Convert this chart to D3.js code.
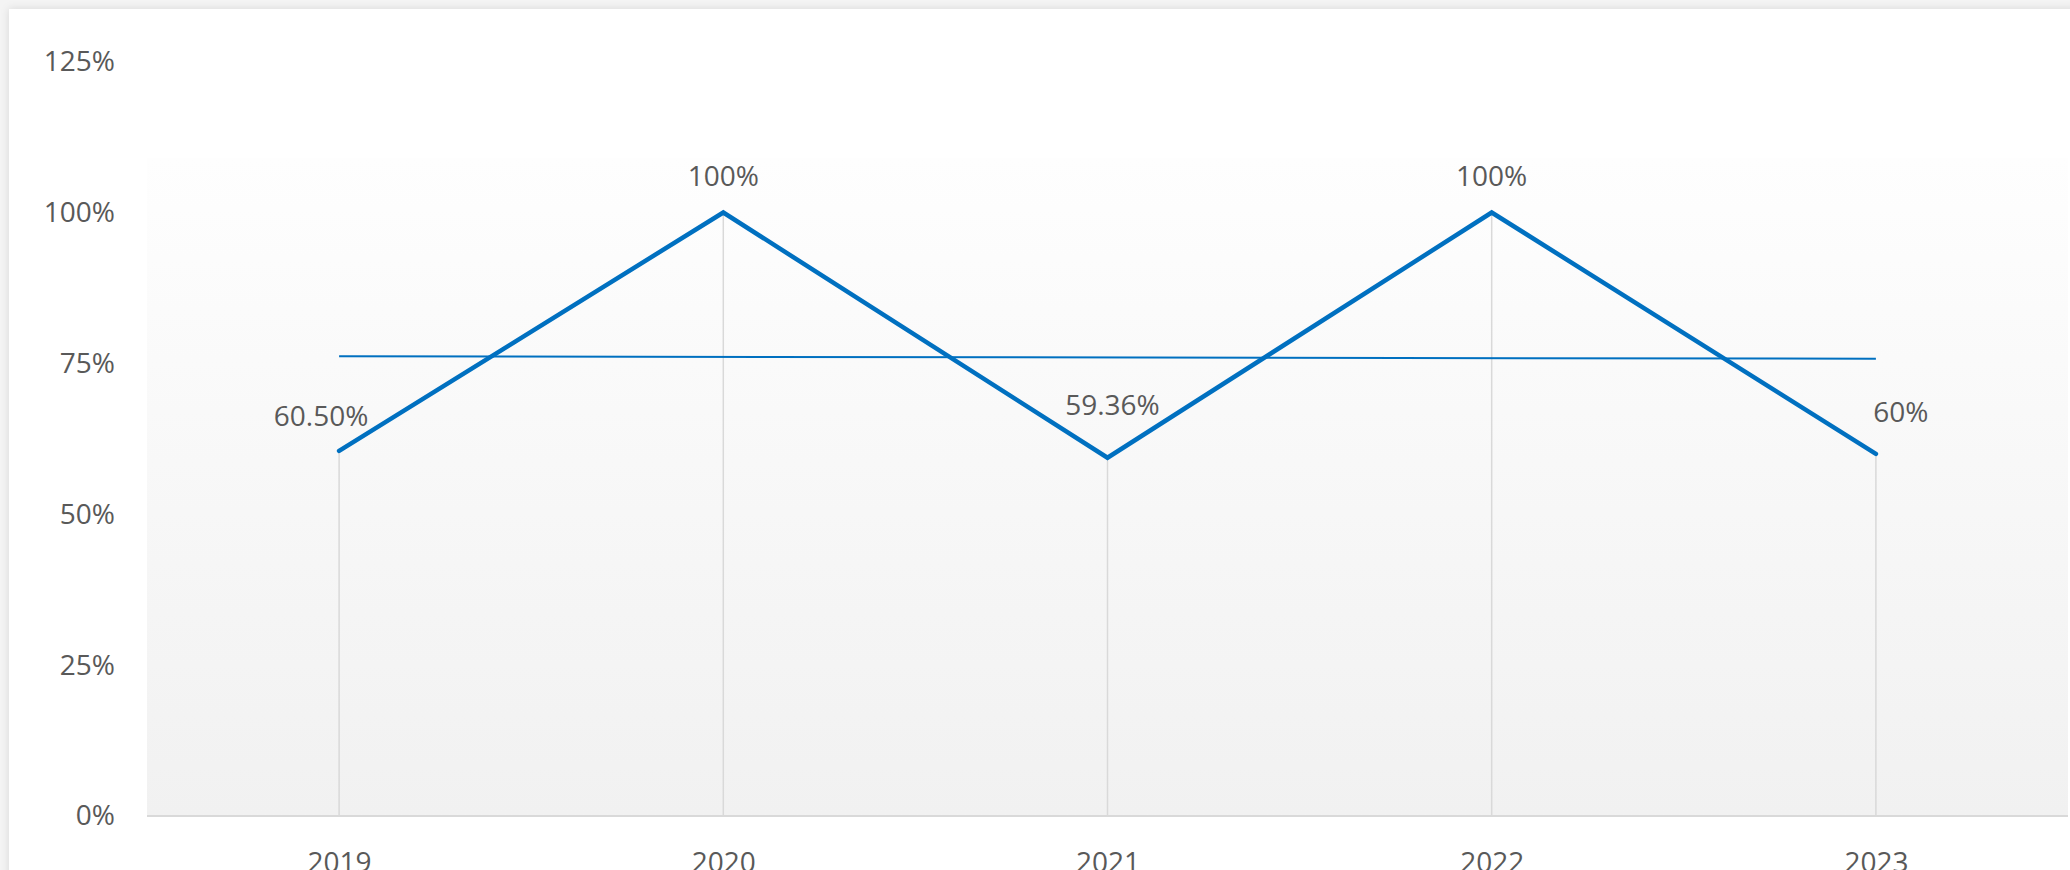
<!DOCTYPE html>
<html>
<head>
<meta charset="utf-8">
<script src="https://cdn.jsdelivr.net/npm/d3@7"></script>
<style>
  html, body { margin: 0; padding: 0; background: #f0f0f0; overflow: hidden; }
  text { font-family: "Open Sans", "Noto Sans", sans-serif; fill: #595959; }
</style>
</head>
<body>
<div id="chart"></div>
<script>
// chart values
const years = ['2019', '2020', '2021', '2022', '2023'];
const rates = [0.605, 1.0, 0.5936, 1.0, 0.60];
const rateLabels = ['60.50%', '100%', '59.36%', '100%', '60%'];
const yTicks = [0, 0.25, 0.5, 0.75, 1.0, 1.25];

// label nudges (px) as placed in the original
const labelDx = [-18, 0, 5, 0, 25];
const labelLift = [25, 26, 43, 26, 32];

const width = 2070, height = 870;
const plot = { left: 147, right: 2068, top: 158, bottom: 816 };

const svg = d3.select('#chart')
  .append('svg')
  .attr('width', width)
  .attr('height', height);

const defs = svg.append('defs');

const shadow = defs.append('filter')
  .attr('id', 'shadow')
  .attr('x', '-5%').attr('y', '-5%')
  .attr('width', '110%').attr('height', '110%');
shadow.append('feDropShadow')
  .attr('dx', 0).attr('dy', 0)
  .attr('stdDeviation', 4)
  .attr('flood-color', '#000')
  .attr('flood-opacity', 0.12);

const grad = defs.append('linearGradient')
  .attr('id', 'plotFill')
  .attr('x1', 0).attr('y1', 0).attr('x2', 0).attr('y2', 1);
grad.append('stop').attr('offset', '0%').attr('stop-color', '#fefefe');
grad.append('stop').attr('offset', '100%').attr('stop-color', '#f1f1f1');

// chart area (white card)
svg.append('rect')
  .attr('x', 0).attr('y', 0)
  .attr('width', width).attr('height', height)
  .attr('fill', '#f4f4f4');

svg.append('rect')
  .attr('x', 9).attr('y', 9)
  .attr('width', width).attr('height', height)
  .attr('fill', '#ffffff')
  .attr('filter', 'url(#shadow)');

// plot area
svg.append('rect')
  .attr('x', plot.left).attr('y', plot.top)
  .attr('width', plot.right - plot.left)
  .attr('height', plot.bottom - plot.top)
  .attr('fill', 'url(#plotFill)');

const xScale = d3.scalePoint()
  .domain(years)
  .range([plot.left, plot.right])
  .padding(0.5);

const yScale = d3.scaleLinear()
  .domain([0, 1.25])
  .range([plot.bottom, 61.6]);

// y axis labels
const yAxis = d3.axisLeft(yScale)
  .tickValues(yTicks)
  .tickFormat(d3.format('.0%'))
  .tickSize(0)
  .tickPadding(32);

const yG = svg.append('g')
  .attr('transform', `translate(${plot.left}, 0)`)
  .call(yAxis);
yG.select('.domain').remove();
yG.selectAll('text')
  .style('font-size', '28px')
  .attr('fill', '#595959');

// x axis labels (cut off by the bottom edge, as in the original)
const xAxis = d3.axisBottom(xScale)
  .tickSize(0)
  .tickPadding(36);

const xG = svg.append('g')
  .attr('transform', `translate(0, ${plot.bottom})`)
  .call(xAxis);
xG.select('.domain').remove();
xG.selectAll('text')
  .style('font-size', '28px')
  .attr('fill', '#595959');

// drop lines
svg.append('g')
  .selectAll('line')
  .data(rates)
  .enter()
  .append('line')
  .attr('x1', (d, i) => xScale(years[i]))
  .attr('x2', (d, i) => xScale(years[i]))
  .attr('y1', d => yScale(d))
  .attr('y2', yScale(0))
  .attr('stroke', '#d9d9d9')
  .attr('stroke-width', 1.5);

// horizontal axis line
svg.append('line')
  .attr('x1', plot.left).attr('x2', plot.right)
  .attr('y1', yScale(0)).attr('y2', yScale(0))
  .attr('stroke', '#d9d9d9')
  .attr('stroke-width', 2);

// linear trendline (least squares over the series)
const idx = rates.map((d, i) => i + 1);
const mx = d3.mean(idx), my = d3.mean(rates);
const slope = d3.sum(idx, (x, i) => (x - mx) * (rates[i] - my)) / d3.sum(idx, x => (x - mx) ** 2);
const intercept = my - slope * mx;
const trend = [1, idx.length].map(x => ({ year: years[x - 1], value: intercept + slope * x }));

svg.append('path')
  .datum(trend)
  .attr('fill', 'none')
  .attr('stroke', '#0070c0')
  .attr('stroke-width', 2)
  .attr('d', d3.line().x(d => xScale(d.year)).y(d => yScale(d.value)));

// main series
const line = d3.line()
  .x((d, i) => xScale(years[i]))
  .y(d => yScale(d));

svg.append('path')
  .datum(rates)
  .attr('fill', 'none')
  .attr('stroke', '#0070c0')
  .attr('stroke-width', 4.5)
  .attr('stroke-linejoin', 'miter')
  .attr('stroke-linecap', 'round')
  .attr('d', line);

// data labels
svg.append('g')
  .selectAll('text')
  .data(rates)
  .enter()
  .append('text')
  .attr('x', (d, i) => xScale(years[i]) + labelDx[i])
  .attr('y', (d, i) => yScale(d) - labelLift[i])
  .attr('text-anchor', 'middle')
  .style('font-size', '28px')
  .text((d, i) => rateLabels[i]);
</script>
</body>
</html>
